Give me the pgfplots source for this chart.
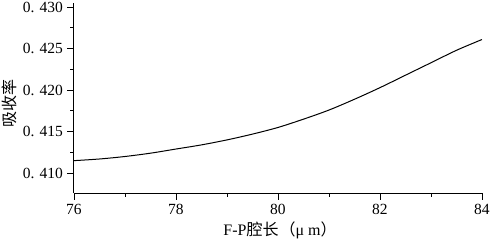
\documentclass[border=0pt]{standalone}
\usepackage{pgfplots}
\pgfplotsset{compat=1.18}
\usepackage{fontspec}
\setmainfont{Liberation Serif}
\newfontfamily\cjk{Noto Sans CJK SC}
\begin{document}
\begin{tikzpicture}
\useasboundingbox (-74pt,-49pt) rectangle (417pt,193pt);
\begin{axis}[
  scale only axis, width=408pt, height=190pt,
  xmin=76, xmax=84, ymin=0.4076, ymax=0.4305,
  axis lines=left, axis line style={-, line width=1pt},
  tick align=outside, major tick length=6.5pt, minor tick length=3.5pt,
  tick style={black, line width=0.9pt},
  xtick={76,78,80,82,84}, minor xtick={77,79,81,83},
  ytick={0.410,0.415,0.420,0.425,0.430},
  yticklabels={0.\,\,410,0.\,\,415,0.\,\,420,0.\,\,425,0.\,\,430},
  minor ytick={0.4125,0.4175,0.4225,0.4275},
  /pgf/number format/assume math mode=true,
  ticklabel style={font=\fontsize{15.5}{17}\selectfont},
  yticklabel style={xshift=-1pt},
  xticklabel style={yshift=-1pt},
  xlabel={F-P{\cjk 腔长}\hspace{1pt}{\cjk （}μ\ m{\cjk ）}},
  ylabel={{\cjk 吸收率}},
  label style={font=\fontsize{16}{18}\selectfont},
  xlabel style={at={(axis description cs:0.5,0)}, anchor=center, yshift=-37pt, xshift=2pt},
  ylabel style={at={(axis description cs:0,0.47)}, anchor=south, yshift=54pt},
  clip=false,
]
\addplot[black, line width=1pt, smooth] coordinates {
(76,0.4115) (76.5,0.4117) (77,0.4120) (77.5,0.4124) (78,0.4129) (78.5,0.4134)
(79,0.4140) (79.5,0.4147) (80,0.4155) (80.5,0.4165) (81,0.4176) (81.5,0.4189)
(82,0.4203) (82.5,0.4218) (83,0.4233) (83.5,0.4248) (84,0.4261)
};
\end{axis}
\end{tikzpicture}
\end{document}
